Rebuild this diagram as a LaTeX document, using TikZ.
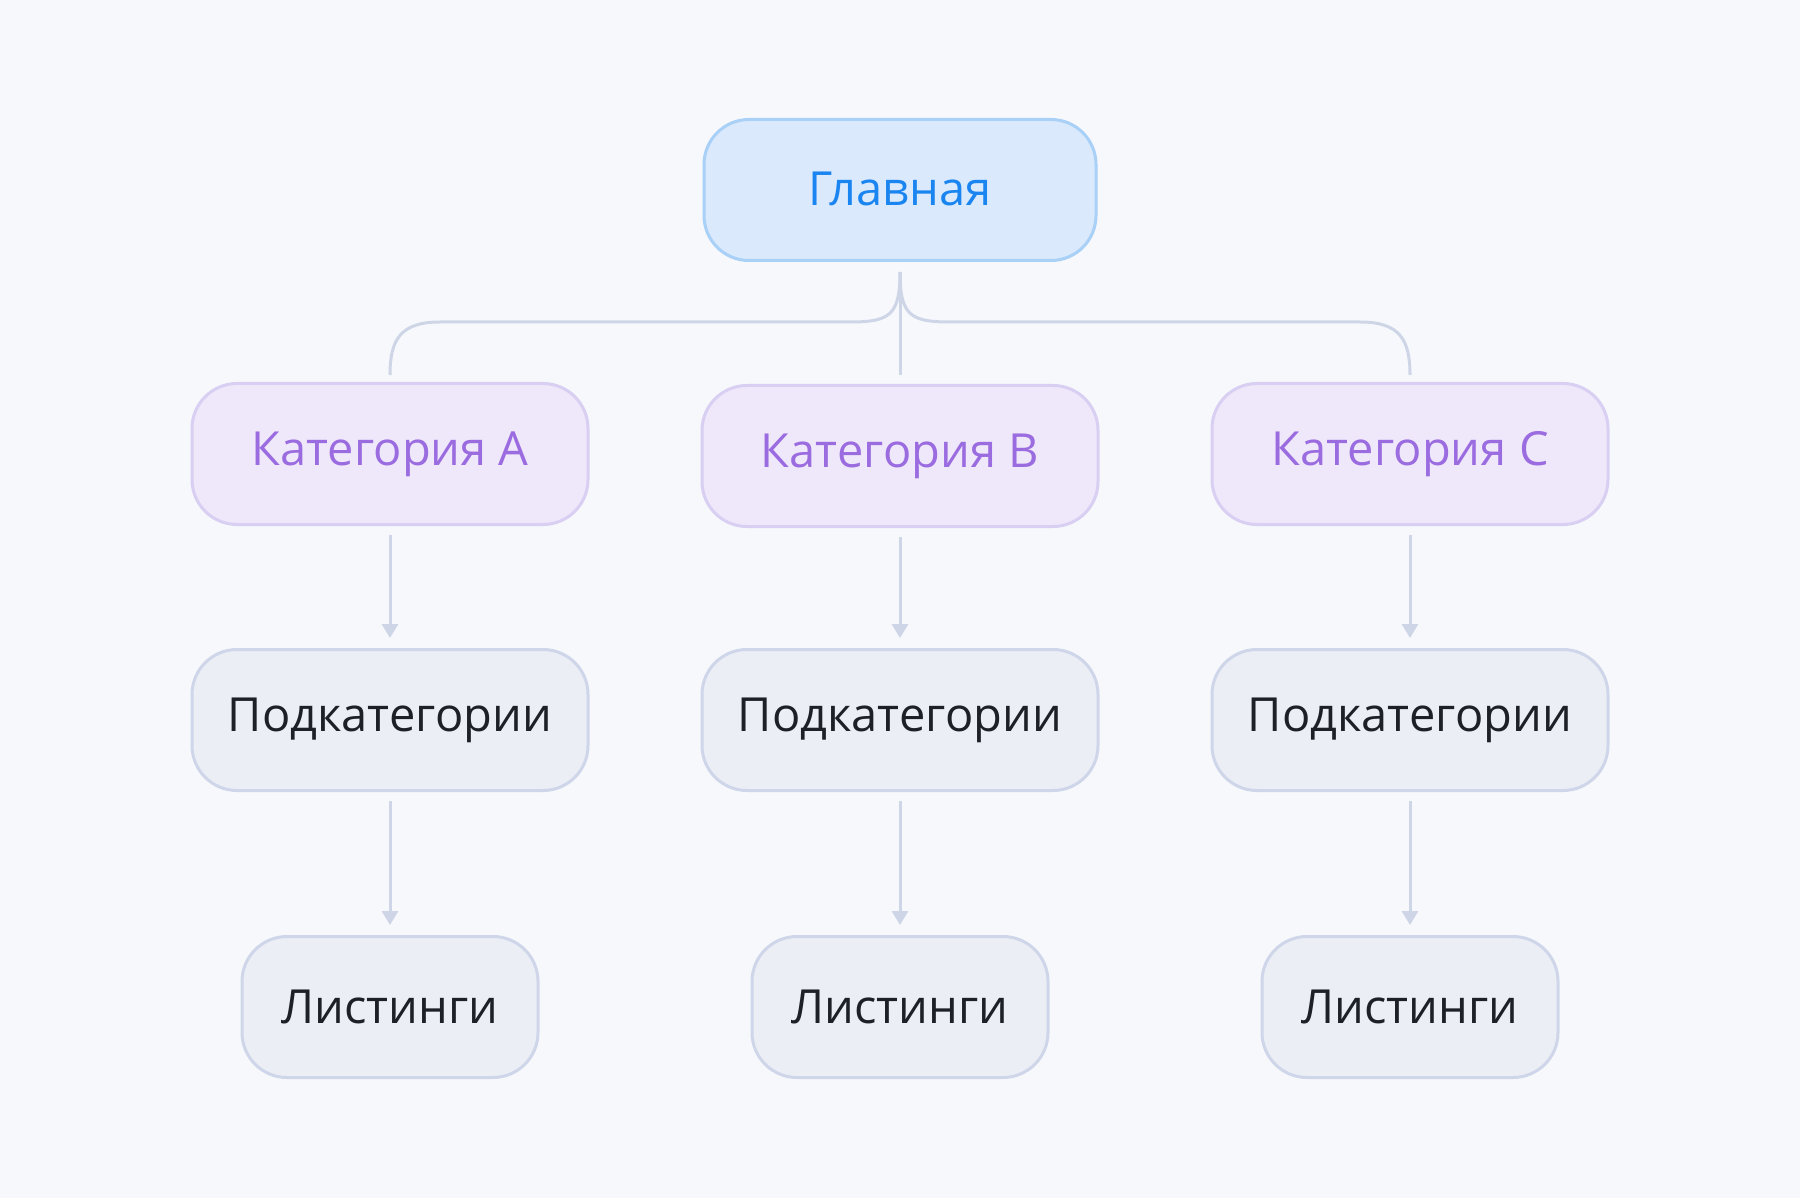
\documentclass[tikz,border=0pt]{standalone}
\usepackage{fontspec}
\setmainfont{Open Sans}
\usetikzlibrary{arrows.meta}
\definecolor{bg}{HTML}{F6F8FC}
\definecolor{mainfill}{HTML}{DAE9FC}
\definecolor{mainbord}{HTML}{A9D0F7}
\definecolor{maintext}{HTML}{1A85F0}
\definecolor{catfill}{HTML}{EEE8FA}
\definecolor{catbord}{HTML}{D8CFF2}
\definecolor{cattext}{HTML}{9B6BE0}
\definecolor{subfill}{HTML}{EBEEF5}
\definecolor{subbord}{HTML}{D0D6EA}
\definecolor{subtext}{HTML}{1E2028}
\definecolor{conn}{HTML}{CDD5E6}
\begin{document}
\begin{tikzpicture}[x=1pt,y=-1pt,
  box/.style={rounded corners=45pt,line width=3pt,minimum height=141pt,inner sep=0pt,font=\fontsize{47}{52}\selectfont},
  mainbox/.style={box,fill=mainfill,draw=mainbord,text=maintext,minimum width=392pt},
  catbox/.style={box,fill=catfill,draw=catbord,text=cattext,minimum width=396pt},
  subbox/.style={box,fill=subfill,draw=subbord,text=subtext,minimum width=396pt},
  listbox/.style={box,fill=subfill,draw=subbord,text=subtext,minimum width=296pt},
  link/.style={draw=conn,line width=3pt},
  arr/.style={link,-{Triangle[length=14pt,width=16pt]}}]
\fill[bg] (0,0) rectangle (1800,1198);
\useasboundingbox (0,0) rectangle (1800,1198);
\node[mainbox] (m) at (900,190) {\raisebox{3pt}{Главная}};
\node[catbox] (ca) at (390,454) {Категория A};
\node[catbox] (cb) at (900,456) {Категория B};
\node[catbox] (cc) at (1410,454) {Категория C};
\foreach \n/\x in {a/390,b/900,c/1410}{
  \node[subbox] (s\n) at (\x,720) {Подкатегории};
  \node[listbox] (l\n) at (\x,1007) {Листинги};
}
\coordinate (top) at (900,272);
\coordinate (ea) at (390,375);
\coordinate (eb) at (900,375);
\coordinate (ec) at (1410,375);
\draw[link] (top) .. controls (900,315) and (890,322) .. (850,322) -- (440,322) .. controls (400,322) and (390,340) .. (ea);
\draw[link] (top) .. controls (900,315) and (910,322) .. (950,322) -- (1360,322) .. controls (1400,322) and (1410,340) .. (ec);
\draw[link] (top) -- (eb);
\foreach \n in {a,b,c}{
  \draw[arr] ([yshift=-9pt]c\n.south) -- ([yshift=10pt]s\n.north);
  \draw[arr] ([yshift=-9pt]s\n.south) -- ([yshift=10pt]l\n.north);
}
\end{tikzpicture}
\end{document}
